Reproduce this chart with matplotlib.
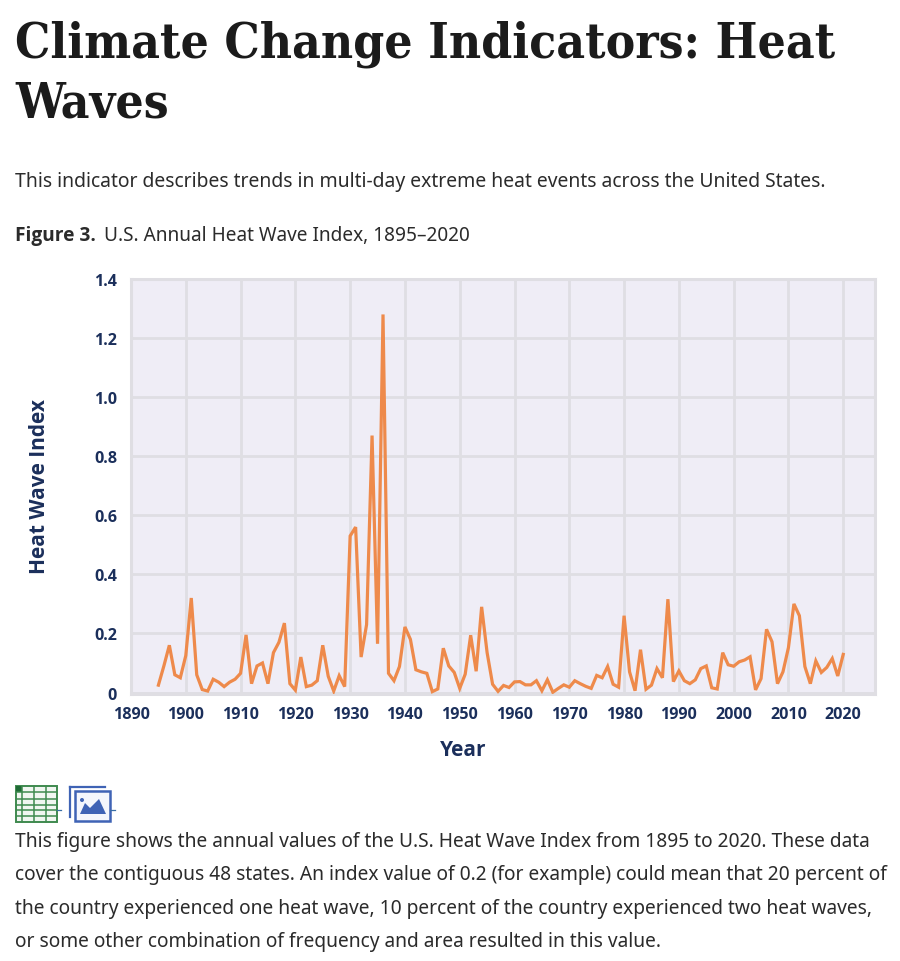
"""
Heat wave index page, figure 3
"""
import matplotlib
matplotlib.use('Agg')
import matplotlib.pyplot as plt
from matplotlib.patches import Rectangle, Polygon, Circle

W, H = 900, 962

years = list(range(1895, 2021))
index_values = [
    0.025, 0.09, 0.16, 0.06, 0.05, 0.125, 0.32, 0.06, 0.01, 0.005,
    0.045, 0.035, 0.02, 0.035, 0.045, 0.065, 0.195, 0.03, 0.09, 0.10,
    0.03, 0.135, 0.17, 0.235, 0.03, 0.008, 0.12, 0.02, 0.025, 0.04,
    0.16, 0.055, 0.005, 0.057, 0.02, 0.53, 0.56, 0.12, 0.23, 0.87,
    0.165, 1.28, 0.065, 0.04, 0.088, 0.222, 0.18, 0.077, 0.07, 0.065,
    0.003, 0.012, 0.15, 0.09, 0.068, 0.014, 0.062, 0.194, 0.072, 0.29,
    0.135, 0.028, 0.004, 0.024, 0.017, 0.036, 0.037, 0.026, 0.026, 0.04,
    0.006, 0.043, 0.001, 0.014, 0.026, 0.018, 0.04, 0.03, 0.021, 0.014,
    0.058, 0.05, 0.088, 0.028, 0.018, 0.26, 0.07, 0.006, 0.145, 0.011,
    0.025, 0.081, 0.05, 0.316, 0.037, 0.073, 0.04, 0.03, 0.043, 0.081,
    0.09, 0.016, 0.012, 0.135, 0.094, 0.089, 0.104, 0.11, 0.121, 0.009,
    0.047, 0.214, 0.172, 0.03, 0.07, 0.152, 0.30, 0.26, 0.088, 0.03,
    0.107, 0.068, 0.085, 0.115, 0.056, 0.129,
]
x_ticks = list(range(1890, 2030, 10))
y_ticks = [0, 0.2, 0.4, 0.6, 0.8, 1.0, 1.2, 1.4]
y_tick_labels = ['0', '0.2', '0.4', '0.6', '0.8', '1.0', '1.2', '1.4']

title_lines = ['Climate Change Indicators: Heat', 'Waves']
intro = 'This indicator describes trends in multi-day extreme heat events across the United States.'
caption_lines = [
    'This figure shows the annual values of the U.S. Heat Wave Index from 1895 to 2020. These data',
    'cover the contiguous 48 states. An index value of 0.2 (for example) could mean that 20 percent of',
    'the country experienced one heat wave, 10 percent of the country experienced two heat waves,',
    'or some other combination of frequency and area resulted in this value.',
]

NAVY = '#1b2f5b'
TEXT = '#2b2b2b'
GRID = '#dfdee3'
BOLD_FONT = 'Open Sans'

fig = plt.figure(figsize=(W / 100, H / 100), dpi=100, facecolor='white')

# page layer in pixel coordinates, y going down
page = fig.add_axes([0, 0, 1, 1])
page.set_xlim(0, W)
page.set_ylim(H, 0)
page.axis('off')

for y, line in zip((44, 104), title_lines):
    page.text(15, y, line, family='DejaVu Serif', stretch='condensed', weight='bold', fontsize=35.6,
              color='#1b1b1b', va='center')
page.text(15, 182, intro, family='Noto Sans', fontsize=13.9, color=TEXT, va='center')
page.text(15, 236, 'Figure 3.', family=BOLD_FONT, weight='bold', fontsize=13.8,
          color=TEXT, va='center')
page.text(104, 236, 'U.S. Annual Heat Wave Index, 1895–2020', family='Noto Sans', fontsize=13.7,
          color=TEXT, va='center')

for i, line in enumerate(caption_lines):
    page.text(15, 842 + i * 33.3, line, family='Noto Sans', fontsize=13.8, color=TEXT, va='center')

# table icon
green = '#3f8a4f'
page.add_patch(Rectangle((16, 787), 41, 36, fc='#f1f6f1', ec=green, lw=1.4))
page.add_patch(Rectangle((16, 787), 6, 6, fc='#1f6a35', ec='none'))
for gx in (22, 34, 46):
    page.plot([gx, gx], [787, 823], color=green, lw=1.1)
for gy in (793, 800, 806, 811, 817):
    page.plot([16, 57], [gy, gy], color=green, lw=1.1)
page.plot([57, 61], [811, 811], color='#3a6ea5', lw=0.9)

# image icon
blue = '#3f63b5'
page.plot([70, 70], [788, 818], color=blue, lw=1.6)
page.plot([70, 105], [788, 788], color=blue, lw=1.6)
page.add_patch(Rectangle((75, 792), 35, 30, fc='#f4f6fc', ec=blue, lw=1.8))
page.add_patch(Polygon([[80, 815], [85, 804], [90, 809], [99, 800], [106, 815]], fc=blue, ec='none'))
page.add_patch(Circle((82, 801), 2, fc=blue, ec='none'))
page.plot([110, 115], [811, 811], color='#3a6ea5', lw=0.9)

# chart, plot area 131..875 x 280..695 px
ax = fig.add_axes([131 / W, 1 - 695 / H, (875 - 131) / W, (695 - 280) / H])
ax.set_facecolor('#efedf6')
ax.plot(years, index_values, color='#ee8a4b', linewidth=2.3, solid_joinstyle='miter', zorder=3)
ax.set_xlim(1890, 2025.8)
ax.set_ylim(-0.005, 1.4)
ax.set_xticks(x_ticks[:-1] if x_ticks[-1] > 2025 else x_ticks)
ax.set_yticks(y_ticks)
ax.set_yticklabels(y_tick_labels)
ax.grid(True, color=GRID, linewidth=2)
ax.set_axisbelow(True)
ax.tick_params(length=0, labelsize=11.6, labelcolor=NAVY)
ax.tick_params(axis='x', pad=9)
ax.tick_params(axis='y', pad=10)
for lab in ax.get_xticklabels() + ax.get_yticklabels():
    lab.set_family(BOLD_FONT)
    lab.set_weight('bold')
for spine in ax.spines.values():
    spine.set_color(GRID)
    spine.set_linewidth(2.2)

page.text(463, 751, 'Year', family=BOLD_FONT, weight='bold', fontsize=15, color=NAVY,
          ha='center', va='center')
page.text(40, 486, 'Heat Wave Index', family=BOLD_FONT, weight='bold', fontsize=15, color=NAVY,
          ha='center', va='center', rotation=90)

plt.savefig('out.png', dpi=100)
